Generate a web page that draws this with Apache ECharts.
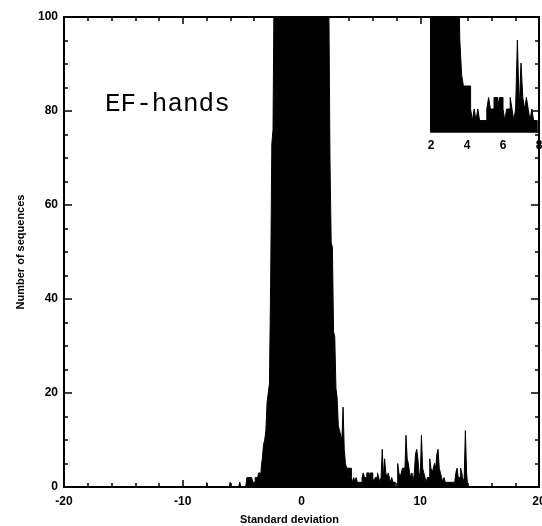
<!DOCTYPE html>
<html>
<head>
<meta charset="utf-8">
<script src="https://cdn.jsdelivr.net/npm/echarts@6/dist/echarts.min.js"></script>
<style>
html,body{margin:0;padding:0;background:#fff;}
#chart{width:542px;height:526px;}
</style>
</head>
<body>
<div id="chart"></div>
<script>
// Histogram of standard deviations (bin width 0.1, first bin starts at -8.0)
var binStart = -8.0;
var binWidth = 0.1;
var counts = [
  1,0,0,0,0,0,0,0,0,0,            // -8.0 .. -7.1
  0,0,0,0,0,0,0,0,0,0,            // -7.0 .. -6.1
  1,0,0,0,0,0,0,0,1,0,            // -6.0 .. -5.1
  0,0,0,0,2,2,2,2,2,1,            // -5.0 .. -4.1
  1,2,2,2,3,3,4,6,9,10,           // -4.0 .. -3.1
  12,18,20,22,43,73,76,110,130,150,   // -3.0 .. -2.1
  175,200,225,250,270,290,310,330,345,360, // -2.0 .. -1.1
  370,380,390,395,400,405,410,410,405,400, // -1.0 .. -0.1
  395,390,380,370,360,350,340,330,320,305, // 0.0 .. 0.9
  290,275,260,245,230,215,200,185,170,155, // 1.0 .. 1.9
  140,128,116,104,69,52,51,33,32,21,       // 2.0 .. 2.9
  19,13,12,11,10,17,8,5,4,4,      // 3.0 .. 3.9
  4,4,2,1,2,1,2,1,1,1,            // 4.0 .. 4.9
  1,2,3,2,2,3,3,2,3,3,            // 5.0 .. 5.9
  2,1,2,2,3,2,1,2,8,2,            // 6.0 .. 6.9
  6,3,2,3,2,1,2,1,1,0,            // 7.0 .. 7.9
  0,5,3,2,3,4,4,3,11,6,           // 8.0 .. 8.9
  5,3,2,3,1,3,7,8,6,3,            // 9.0 .. 9.9
  2,11,4,3,2,1,2,2,6,4,           // 10.0 .. 10.9
  3,4,5,4,7,8,4,3,2,1,            // 11.0 .. 11.9
  2,1,1,1,1,1,1,1,1,1,            // 12.0 .. 12.9
  3,4,2,2,4,3,1,2,12,3,           // 13.0 .. 13.9
  0                               // 14.0
];

var mainXTicks = [-20, -10, 0, 10, 20];
var mainYTicks = [0, 20, 40, 60, 80, 100];
var insetXTicks = [2, 4, 6, 8];
var insetYMax = 10;

var xTitle = 'Standard deviation';
var yTitle = 'Number of sequences';
var panelLabel = 'EF-hands';

var histData = counts.map(function (c, i) {
  return [+(binStart + i * binWidth).toFixed(2), c];
});

var chart = echarts.init(document.getElementById('chart'), null, {renderer: 'canvas'});

var lblFont = {color: '#000', fontFamily: 'Liberation Sans, Arial, sans-serif', fontWeight: 'bold', fontSize: 12};
var axisLineStyle = {color: '#000', width: 2};

var option = {
  backgroundColor: '#fff',
  animation: false,
  grid: [
    {left: 64, right: 3, top: 17, bottom: 39, containLabel: false, outerBoundsMode: 'none'},
    {left: 431, width: 108, top: 17, height: 115, containLabel: false, outerBoundsMode: 'none'}
  ],
  xAxis: [
    {
      type: 'value', gridIndex: 0, position: 'bottom',
      min: mainXTicks[0], max: mainXTicks[mainXTicks.length - 1], interval: 10,
      axisLine: {show: true, onZero: false, lineStyle: axisLineStyle},
      axisTick: {show: true, inside: true, length: 7, lineStyle: {color: '#000', width: 1.5}},
      minorTick: {show: true, splitNumber: 5, length: 4, lineStyle: {color: '#000', width: 1.5}},
      axisLabel: Object.assign({margin: 9}, lblFont),
      splitLine: {show: false},
      name: xTitle, nameLocation: 'middle', nameGap: 27,
      nameTextStyle: {color: '#000', fontFamily: 'Liberation Sans, Arial, sans-serif', fontWeight: 'bold', fontSize: 11, padding: [0, 24, 0, 0]}
    },
    {
      type: 'value', gridIndex: 0, position: 'top',
      min: mainXTicks[0], max: mainXTicks[mainXTicks.length - 1], interval: 10,
      axisLine: {show: true, onZero: false, lineStyle: axisLineStyle},
      axisTick: {show: true, inside: true, length: 7, lineStyle: {color: '#000', width: 1.5}},
      minorTick: {show: true, splitNumber: 5, length: 4, lineStyle: {color: '#000', width: 1.5}},
      axisLabel: {show: false},
      splitLine: {show: false}
    },
    {
      type: 'value', gridIndex: 1, position: 'bottom',
      min: insetXTicks[0], max: insetXTicks[insetXTicks.length - 1], interval: 2,
      axisLine: {show: true, onZero: false, lineStyle: {color: '#000', width: 1.5}},
      axisTick: {show: false},
      axisLabel: Object.assign({margin: 8}, lblFont),
      splitLine: {show: false}
    }
  ],
  yAxis: [
    {
      type: 'value', gridIndex: 0, position: 'left',
      min: mainYTicks[0], max: mainYTicks[mainYTicks.length - 1], interval: 20,
      axisLine: {show: true, onZero: false, lineStyle: axisLineStyle},
      axisTick: {show: true, inside: true, length: 8, lineStyle: {color: '#000', width: 1.5}},
      minorTick: {show: true, splitNumber: 4, length: 4, lineStyle: {color: '#000', width: 1.5}},
      axisLabel: Object.assign({margin: 6}, lblFont),
      splitLine: {show: false},
      name: yTitle, nameLocation: 'middle', nameGap: 38, nameRotate: 90,
      nameTextStyle: {color: '#000', fontFamily: 'Liberation Sans, Arial, sans-serif', fontWeight: 'bold', fontSize: 11}
    },
    {
      type: 'value', gridIndex: 0, position: 'right',
      min: mainYTicks[0], max: mainYTicks[mainYTicks.length - 1], interval: 20,
      axisLine: {show: true, onZero: false, lineStyle: axisLineStyle},
      axisTick: {show: true, inside: true, length: 8, lineStyle: {color: '#000', width: 1.5}},
      minorTick: {show: true, splitNumber: 4, length: 4, lineStyle: {color: '#000', width: 1.5}},
      axisLabel: {show: false},
      splitLine: {show: false}
    },
    {
      type: 'value', gridIndex: 1, position: 'left',
      min: 0, max: insetYMax,
      axisLine: {show: true, onZero: false, lineStyle: {color: '#000', width: 1.5}},
      axisTick: {show: false},
      axisLabel: {show: false},
      splitLine: {show: false}
    }
  ],
  series: [
    {
      type: 'line', xAxisIndex: 0, yAxisIndex: 0,
      data: histData, step: 'end', showSymbol: false, clip: true,
      lineStyle: {color: '#000', width: 1},
      areaStyle: {color: '#000', opacity: 1},
      z: 1
    },
    {
      type: 'line', xAxisIndex: 2, yAxisIndex: 2,
      data: histData, step: 'end', showSymbol: false, clip: true,
      lineStyle: {color: '#000', width: 1},
      areaStyle: {color: '#000', opacity: 1},
      z: 1
    }
  ],
  graphic: [
    {
      type: 'text', left: 105, top: 91,
      style: {text: panelLabel, fill: '#000', fontFamily: 'Liberation Mono', fontSize: 26, fontWeight: 'normal'}
    }
  ]
};

chart.setOption(option);
</script>
</body>
</html>
